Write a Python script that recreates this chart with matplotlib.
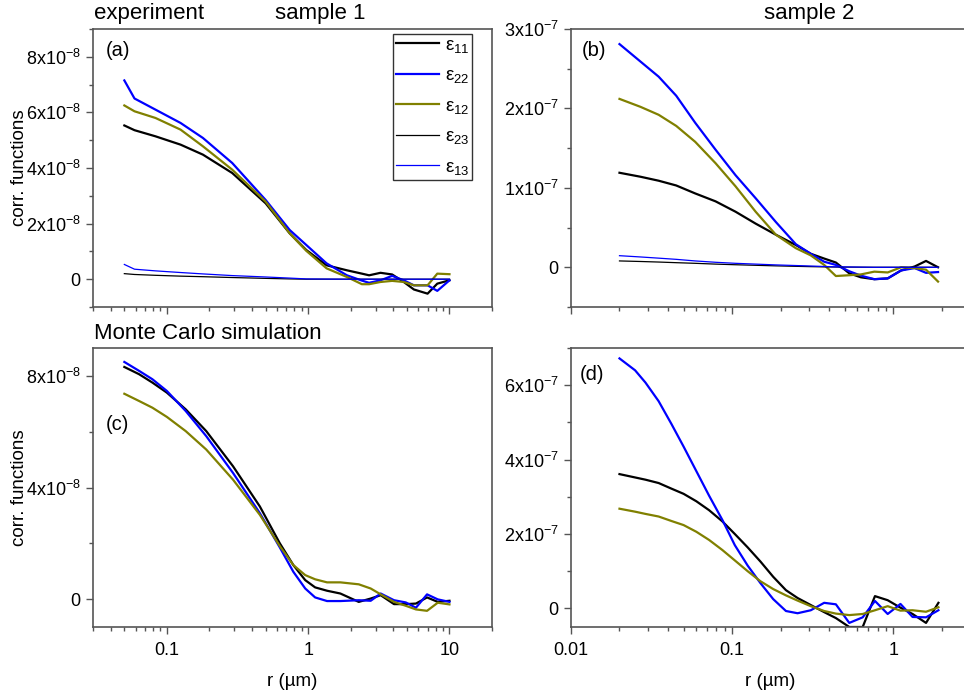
import matplotlib
matplotlib.use("Agg")
import matplotlib.pyplot as plt
from matplotlib.ticker import MultipleLocator, FuncFormatter, LogLocator, NullFormatter, FixedLocator, FixedFormatter

plt.rcParams['font.family'] = ['Liberation Sans', 'DejaVu Sans']
plt.rcParams['mathtext.fontset'] = 'custom'
plt.rcParams['mathtext.rm'] = 'Liberation Sans'
plt.rcParams['mathtext.it'] = 'Liberation Sans:italic'
plt.rcParams['mathtext.bf'] = 'Liberation Sans:bold'

# ---------------- data ----------------
# (a) experiment, sample 1   (values in units of 1e-8)
r_a = [0.05, 0.059, 0.083, 0.125, 0.18, 0.29, 0.5, 0.74, 0.97, 1.35, 1.88, 2.4, 2.7,
       3.25, 3.93, 4.75, 5.6, 7.0, 8.2, 10.0]
a_e11 = [5.53, 5.36, 5.14, 4.84, 4.48, 3.82, 2.73, 1.65, 1.05, 0.50, 0.32, 0.20, 0.14,
         0.23, 0.17, -0.10, -0.37, -0.52, -0.16, -0.04]
a_e22 = [7.15, 6.50, 6.10, 5.62, 5.08, 4.18, 2.85, 1.77, 1.23, 0.57, 0.14, -0.05, -0.13,
         -0.04, 0.12, -0.04, -0.22, -0.22, -0.42, -0.04]
a_e12 = [6.25, 6.04, 5.80, 5.38, 4.78, 3.94, 2.79, 1.65, 1.02, 0.39, 0.08, -0.18, -0.18,
         -0.10, -0.06, -0.10, -0.22, -0.22, 0.20, 0.18]
a_e23 = [0.20, 0.17, 0.14, 0.11, 0.09, 0.06, 0.03, 0.01, 0.0, 0.0, 0.0, 0.0, 0.0,
         0.0, 0.0, 0.0, 0.0, 0.0, 0.0, 0.0]
a_e13 = [0.53, 0.36, 0.30, 0.24, 0.19, 0.13, 0.08, 0.04, 0.01, 0.005, 0.0, 0.0, 0.0,
         0.0, 0.0, 0.0, 0.0, 0.0, 0.0, 0.0]

# (b) experiment, sample 2   (units of 1e-7)
r_b = [0.02, 0.027, 0.035, 0.045, 0.059, 0.079, 0.105, 0.14, 0.187, 0.249, 0.308, 0.373,
       0.441, 0.534, 0.63, 0.764, 0.925, 1.12, 1.36, 1.60, 1.90]
b_e11 = [1.19, 1.14, 1.09, 1.03, 0.93, 0.83, 0.70, 0.55, 0.41, 0.28, 0.17, 0.11,
         0.06, -0.076, -0.126, -0.15, -0.14, -0.04, 0.01, 0.08, 0.0]
b_e22 = [2.81, 2.59, 2.40, 2.16, 1.82, 1.48, 1.16, 0.87, 0.57, 0.29, 0.17, 0.07,
         0.03, -0.05, -0.105, -0.15, -0.14, -0.04, -0.01, -0.07, -0.06]
b_e12 = [2.12, 2.02, 1.92, 1.78, 1.58, 1.31, 1.02, 0.70, 0.41, 0.24, 0.15, 0.03,
         -0.11, -0.10, -0.09, -0.055, -0.065, 0.0, -0.01, -0.03, -0.18]
b_e23 = [0.08, 0.073, 0.066, 0.058, 0.05, 0.04, 0.032, 0.025, 0.018, 0.012, 0.008, 0.005,
         0.003, 0.002, 0.001, 0.0, 0.0, 0.0, 0.0, 0.0, 0.0]
b_e13 = [0.146, 0.13, 0.115, 0.10, 0.08, 0.063, 0.05, 0.04, 0.03, 0.022, 0.016, 0.01,
         0.006, 0.004, 0.002, 0.0, 0.0, 0.0, 0.0, 0.0, 0.0]

# (c) Monte Carlo, sample 1   (units of 1e-8)
r_c = [0.05, 0.0636, 0.079, 0.1, 0.136, 0.19, 0.294, 0.455, 0.63, 0.785, 0.953, 1.12,
       1.36, 1.69, 2.28, 2.77, 3.26, 4.05, 4.91, 5.79, 6.94, 8.26, 10.0]
c_e11 = [8.32, 8.06, 7.76, 7.40, 6.80, 6.02, 4.76, 3.32, 2.00, 1.22, 0.68, 0.42,
         0.30, 0.20, -0.10, 0.02, 0.14, -0.18, -0.18, -0.16, 0.06, -0.10, -0.06]
c_e22 = [8.50, 8.18, 7.88, 7.46, 6.74, 5.84, 4.52, 3.08, 1.85, 0.98, 0.38, 0.06,
         -0.07, -0.07, -0.04, -0.06, 0.20, -0.04, -0.12, -0.31, 0.17, -0.01, -0.10]
c_e12 = [7.36, 7.10, 6.86, 6.53, 6.02, 5.36, 4.28, 3.02, 1.90, 1.22, 0.86, 0.71,
         0.60, 0.60, 0.53, 0.38, 0.17, -0.10, -0.24, -0.37, -0.42, -0.13, -0.19]

# (d) Monte Carlo, sample 2   (units of 1e-7)
r_d = [0.02, 0.025, 0.029, 0.035, 0.042, 0.05, 0.06, 0.072, 0.087, 0.104, 0.125, 0.15,
       0.18, 0.216, 0.255, 0.308, 0.373, 0.441, 0.534, 0.647, 0.771, 0.925, 1.11, 1.32,
       1.60, 1.91]
d_e11 = [3.61, 3.52, 3.46, 3.37, 3.22, 3.08, 2.88, 2.64, 2.34, 2.00, 1.64, 1.26,
         0.85, 0.49, 0.28, 0.09, -0.10, -0.26, -0.50, -0.50, 0.33, 0.22, 0.02, -0.15,
         -0.39, 0.15]
d_e22 = [6.72, 6.40, 6.07, 5.57, 4.96, 4.35, 3.69, 3.03, 2.38, 1.70, 1.15, 0.68,
         0.25, -0.07, -0.13, -0.05, 0.15, 0.11, -0.39, -0.24, 0.20, -0.15, 0.12, -0.23,
         -0.24, -0.05]
d_e12 = [2.68, 2.60, 2.54, 2.47, 2.35, 2.24, 2.06, 1.84, 1.57, 1.29, 1.00, 0.73,
         0.52, 0.35, 0.21, 0.06, -0.07, -0.14, -0.18, -0.15, -0.05, 0.06, -0.06, -0.05,
         -0.09, 0.03]

labels = [r'$\mathregular{\varepsilon_{11}}$', r'$\mathregular{\varepsilon_{22}}$',
          r'$\mathregular{\varepsilon_{12}}$', r'$\mathregular{\varepsilon_{23}}$',
          r'$\mathregular{\varepsilon_{13}}$']

# ---------------- styling ----------------
BLACK, BLUE, OLIVE = '#000000', '#0000FF', '#808000'
SPINE = '#555555'
W, H = 964, 693
fig = plt.figure(figsize=(W / 100, H / 100), dpi=100)


def add_ax(x0, y0, x1, y1):
    return fig.add_axes([x0 / W, 1 - y1 / H, (x1 - x0) / W, (y1 - y0) / H])


def style(ax, xlim, ylim, exp, major, minor, xticks, xlabels, show_xlabels):
    ax.set_xscale('log')
    ax.set_xlim(*xlim)
    ax.set_ylim(*ylim)
    for s in ax.spines.values():
        s.set_color(SPINE)
        s.set_linewidth(1.2)
    ax.xaxis.set_major_locator(FixedLocator(xticks))
    ax.xaxis.set_minor_locator(LogLocator(base=10, subs=range(2, 10)))
    ax.xaxis.set_minor_formatter(NullFormatter())
    if show_xlabels:
        ax.xaxis.set_major_formatter(FixedFormatter(xlabels))
    else:
        ax.xaxis.set_major_formatter(NullFormatter())
    ax.yaxis.set_major_locator(MultipleLocator(major * 10 ** exp))
    ax.yaxis.set_minor_locator(MultipleLocator(minor * 10 ** exp))

    def f(v, pos):
        m = v / 10 ** exp
        if abs(m) < 1e-6:
            return '0'
        return r'$\mathregular{%dx10^{%d}}$' % (round(m), exp)
    ax.yaxis.set_major_formatter(FuncFormatter(f))
    ax.tick_params(which='both', direction='out', color=SPINE, width=1.0,
                   top=False, right=False, labelsize=13)
    ax.tick_params(axis='y', pad=4)
    ax.tick_params(axis='x', pad=6)
    ax.tick_params(which='major', length=5)
    ax.tick_params(which='minor', length=3)


ax_a = add_ax(93, 29, 492, 307)
ax_b = add_ax(571, 29, 970, 307)
ax_c = add_ax(93, 348, 492, 627)
ax_d = add_ax(571, 348, 970, 627)

s8, s7 = 1e-8, 1e-7
lw_thick, lw_thin = 1.6, 0.9

# (a)
ax_a.plot(r_a, [v * s8 for v in a_e11], color=BLACK, lw=lw_thick, label=labels[0])
ax_a.plot(r_a, [v * s8 for v in a_e22], color=BLUE, lw=lw_thick, label=labels[1])
ax_a.plot(r_a, [v * s8 for v in a_e12], color=OLIVE, lw=lw_thick, label=labels[2])
ax_a.plot(r_a, [v * s8 for v in a_e23], color=BLACK, lw=lw_thin, label=labels[3])
ax_a.plot(r_a, [v * s8 for v in a_e13], color=BLUE, lw=lw_thin, label=labels[4])
style(ax_a, (0.03, 20), (-1e-8, 9e-8), -8, 2, 1, [0.1, 1, 10], ['0.1', '1', '10'], False)

# (b)
ax_b.plot(r_b, [v * s7 for v in b_e11], color=BLACK, lw=lw_thick)
ax_b.plot(r_b, [v * s7 for v in b_e22], color=BLUE, lw=lw_thick)
ax_b.plot(r_b, [v * s7 for v in b_e12], color=OLIVE, lw=lw_thick)
ax_b.plot(r_b, [v * s7 for v in b_e23], color=BLACK, lw=lw_thin)
ax_b.plot(r_b, [v * s7 for v in b_e13], color=BLUE, lw=lw_thin)
style(ax_b, (0.01, 3.0), (-0.5e-7, 3e-7), -7, 1, 0.5, [0.01, 0.1, 1], ['0.01', '0.1', '1'], False)

# (c)
ax_c.plot(r_c, [v * s8 for v in c_e11], color=BLACK, lw=lw_thick)
ax_c.plot(r_c, [v * s8 for v in c_e22], color=BLUE, lw=lw_thick)
ax_c.plot(r_c, [v * s8 for v in c_e12], color=OLIVE, lw=lw_thick)
style(ax_c, (0.03, 20), (-1e-8, 9e-8), -8, 4, 2, [0.1, 1, 10], ['0.1', '1', '10'], True)

# (d)
ax_d.plot(r_d, [v * s7 for v in d_e11], color=BLACK, lw=lw_thick)
ax_d.plot(r_d, [v * s7 for v in d_e22], color=BLUE, lw=lw_thick)
ax_d.plot(r_d, [v * s7 for v in d_e12], color=OLIVE, lw=lw_thick)
style(ax_d, (0.01, 3.0), (-0.5e-7, 7e-7), -7, 2, 1, [0.01, 0.1, 1], ['0.01', '0.1', '1'], True)

# panel letters
for ax, txt, px, py in [(ax_a, '(a)', 106, 50), (ax_b, '(b)', 582, 50),
                        (ax_c, '(c)', 106, 424), (ax_d, '(d)', 580, 375)]:
    fig.text(px / W, 1 - py / H, txt, fontsize=14.5, ha='left', va='center')

# axis labels
for ax in (ax_a, ax_c):
    ax.set_ylabel('corr. functions', fontsize=13.5)
    ax.yaxis.set_label_coords(-0.163, 0.5)
for ax in (ax_c, ax_d):
    ax.set_xlabel('r (µm)', fontsize=13.5, labelpad=10)

# titles
fig.text(94 / W, 1 - 13 / H, 'experiment', fontsize=16, ha='left', va='center')
fig.text(320 / W, 1 - 13 / H, 'sample 1', fontsize=16, ha='center', va='center')
fig.text(809 / W, 1 - 13 / H, 'sample 2', fontsize=16, ha='center', va='center')
fig.text(94 / W, 1 - 333 / H, 'Monte Carlo simulation', fontsize=16, ha='left', va='center')

# legend
leg = ax_a.legend(loc='upper left', bbox_to_anchor=(393 / W, 1 - 34 / H),
                  bbox_transform=fig.transFigure, borderaxespad=0, fontsize=13.5,
                  frameon=True, fancybox=False, framealpha=1, edgecolor='#333333',
                  handlelength=2.3, handletextpad=0.3, labelspacing=0.66, borderpad=0.15)
leg.get_frame().set_linewidth(1.0)

fig.savefig('out.png', dpi=100)
